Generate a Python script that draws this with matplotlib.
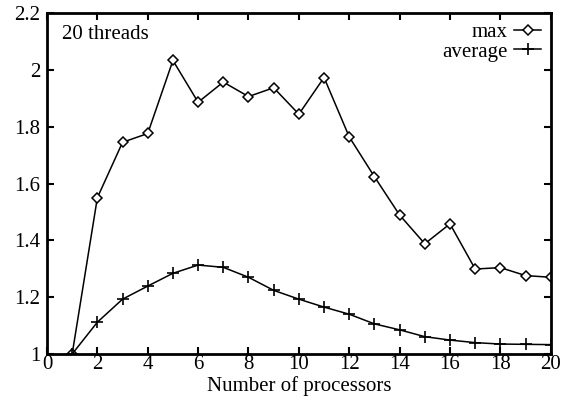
import matplotlib
matplotlib.use("Agg")
import matplotlib.pyplot as plt

x = list(range(1, 21))
max_vals = [1.0, 1.55, 1.745, 1.776, 2.033, 1.886, 1.957, 1.906, 1.937, 1.844,
            1.973, 1.764, 1.624, 1.489, 1.388, 1.458, 1.299, 1.304, 1.276, 1.270]
avg_vals = [1.0, 1.112, 1.193, 1.239, 1.284, 1.313, 1.305, 1.270, 1.224, 1.193,
            1.165, 1.140, 1.106, 1.085, 1.061, 1.049, 1.040, 1.035, 1.034, 1.033]
xticks = list(range(0, 21, 2))
yticks = [1, 1.2, 1.4, 1.6, 1.8, 2, 2.2]
ytick_labels = ["1", "1.2", "1.4", "1.6", "1.8", "2", "2.2"]

plt.rcParams['font.family'] = ['Liberation Serif', 'DejaVu Serif']
plt.rcParams['font.size'] = 15

fig = plt.figure(figsize=(5.71, 4.03), dpi=100)
ax = fig.add_axes([0.0823, 0.1216, 0.8822, 0.8461])

ax.plot(x, max_vals, color='black', lw=1.1, marker='D', markersize=5,
        markerfacecolor='white', markeredgecolor='black', markeredgewidth=1.1, label='max')
ax.plot(x, avg_vals, color='black', lw=1.1, marker='+', markersize=9,
        markeredgewidth=1.2, label='average')

ax.set_xlim(0, 20)
ax.set_ylim(1, 2.2)
ax.set_xticks(xticks)
ax.set_yticks(yticks)
ax.set_yticklabels(ytick_labels)
for s in ax.spines.values():
    s.set_linewidth(2)
ax.tick_params(direction='in', top=True, right=True, length=5, width=1.5,
               labelsize=15, pad=1)
ax.tick_params(axis='y', pad=5)
ax.set_xlabel('Number of processors', fontsize=15, labelpad=1)

ax.text(0.03, 0.965, '20 threads', transform=ax.transAxes, fontsize=15,
        ha='left', va='top')

leg = ax.legend(loc='upper right', frameon=False, markerfirst=False,
                fontsize=15, handlelength=1.3, handletextpad=0.3,
                labelspacing=0.0, borderaxespad=0.05)

fig.savefig('out.png', dpi=100)
